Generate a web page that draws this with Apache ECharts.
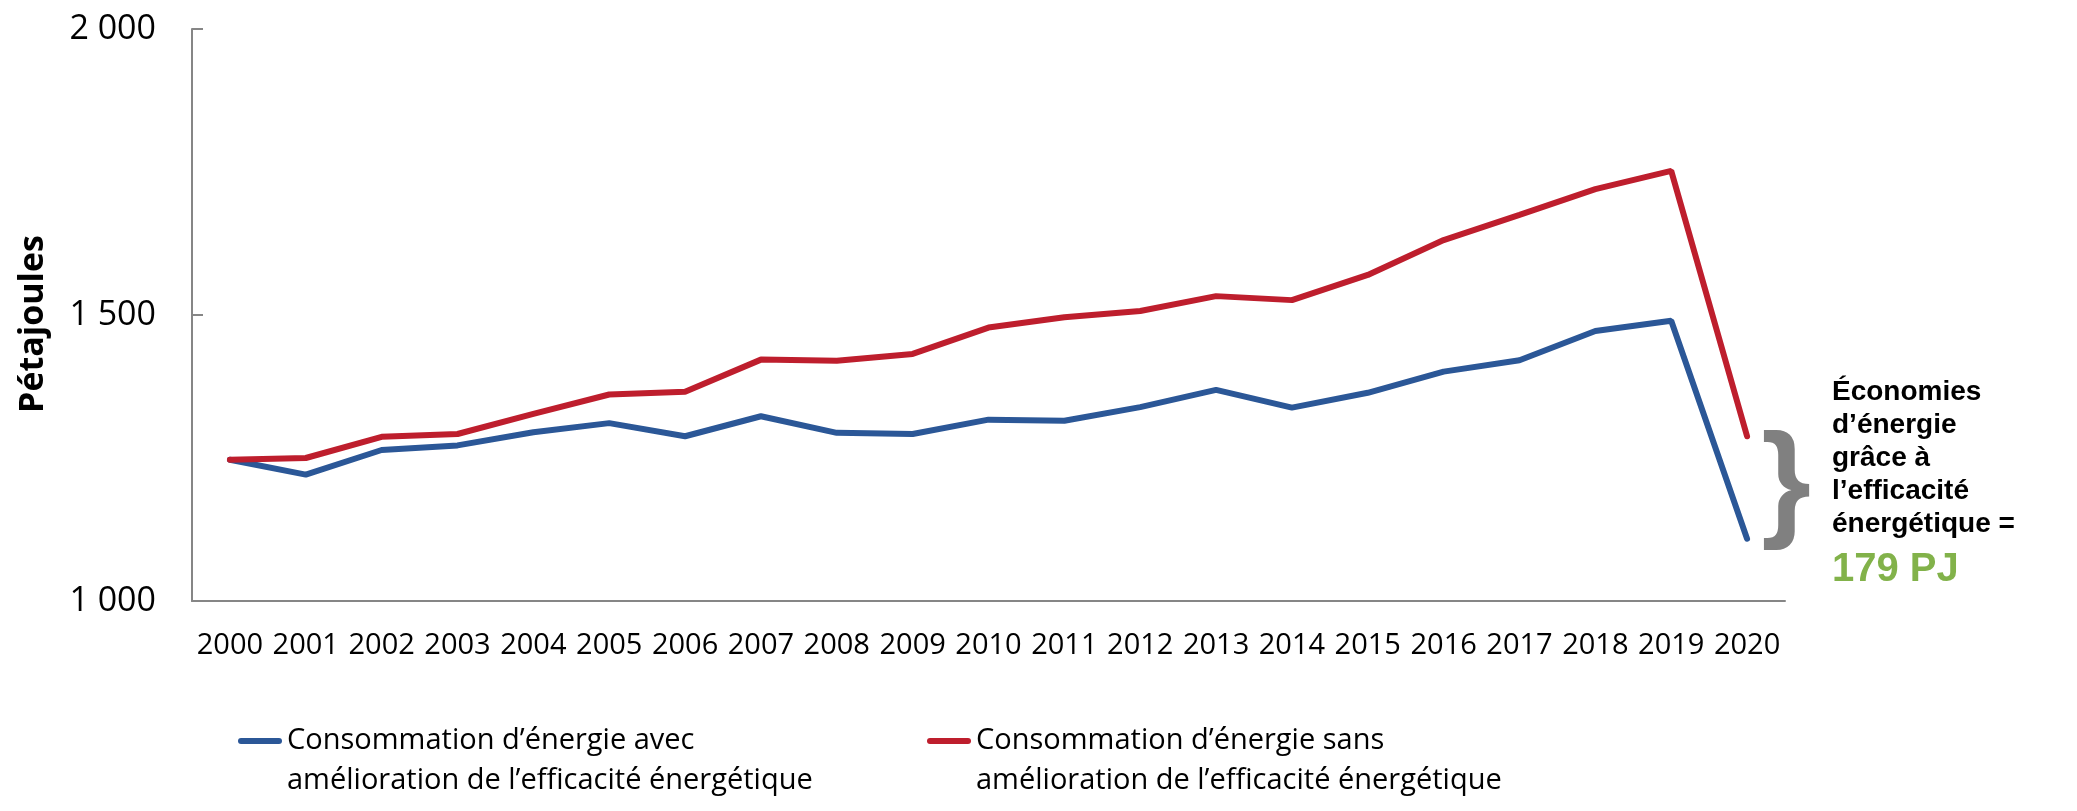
<!DOCTYPE html>
<html>
<head>
<meta charset="utf-8">
<script src="https://cdn.jsdelivr.net/npm/echarts@6/dist/echarts.min.js"></script>
<style>
  html, body { margin: 0; padding: 0; background: #fff; }
  #main { width: 2077px; height: 811px; }
</style>
</head>
<body>
<div id="main"></div>
<script>
// data (petajoules)
var years = ["2000", "2001", "2002", "2003", "2004", "2005", "2006", "2007", "2008", "2009", "2010",
  "2011", "2012", "2013", "2014", "2015", "2016", "2017", "2018", "2019", "2020"];
var avecAmelioration = [1247, 1221, 1264, 1272, 1295, 1311, 1288, 1323, 1294, 1292, 1317,
  1315, 1339, 1369, 1338, 1364, 1401, 1421, 1472, 1490, 1109];
var sansAmelioration = [1247, 1250, 1287, 1292, 1327, 1361, 1366, 1422, 1420, 1432, 1478,
  1496, 1507, 1533, 1526, 1570, 1631, 1675, 1720, 1752, 1288];
var yTicks = [1000, 1500, 2000];
var nomAvec = "Consommation d\u2019énergie avec\namélioration de l\u2019efficacité énergétique";
var nomSans = "Consommation d\u2019énergie sans\namélioration de l\u2019efficacité énergétique";
var economies = "179 PJ";

var gris = "#868686";
var bleu = "#2B5797";
var rouge = "#BE1E2D";

function milliers(v) {
  return String(v).replace(/\B(?=(\d{3})+(?!\d))/g, " ");
}

var chart = echarts.init(document.getElementById("main"));

// rounded bar used as legend marker
var trait = "path://M3,0 L41,0 A3,3 0 0 1 41,6 L3,6 A3,3 0 0 1 3,0 Z";

function legende(nom, gauche) {
  return {
    data: [{ name: nom, icon: trait }],
    left: gauche,
    top: 676,
    itemWidth: 44,
    itemHeight: 6,
    // empty first line so the marker sits level with the first text line
    formatter: function (n) { return "\n" + n; },
    textStyle: {
      fontFamily: "Open Sans",
      fontSize: 29,
      color: "#000",
      lineHeight: 40
    }
  };
}

var option = {
  animation: false,
  grid: { left: 192, right: 292, top: 29, bottom: 210 },
  legend: [legende(nomAvec, 233), legende(nomSans, 922)],
  xAxis: {
    type: "category",
    data: years,
    boundaryGap: true,
    axisLine: { lineStyle: { color: gris, width: 2 } },
    axisTick: { inside: true, length: 10, lineStyle: { color: gris, width: 2 } },
    axisLabel: {
      interval: 0,
      margin: 30,
      fontFamily: "Open Sans",
      fontSize: 29,
      color: "#000"
    }
  },
  yAxis: {
    type: "value",
    min: yTicks[0],
    max: yTicks[yTicks.length - 1],
    interval: yTicks[1] - yTicks[0],
    name: "Pétajoules",
    nameLocation: "middle",
    nameRotate: 90,
    nameGap: 142,
    nameTextStyle: {
      fontFamily: "Open Sans",
      fontWeight: "bold",
      fontSize: 34,
      color: "#000",
      padding: [0, 18, 0, 0]
    },
    axisLine: { show: true, lineStyle: { color: gris, width: 2 } },
    axisTick: { show: true, inside: true, length: 11, lineStyle: { color: gris, width: 2 } },
    splitLine: { show: false },
    axisLabel: {
      margin: 36,
      fontFamily: "Open Sans",
      fontSize: 34,
      color: "#000",
      formatter: milliers
    }
  },
  series: [
    {
      name: nomAvec,
      type: "line",
      data: avecAmelioration,
      symbol: "none",
      color: bleu,
      lineStyle: { width: 6, color: bleu, cap: "round" }
    },
    {
      name: nomSans,
      type: "line",
      data: sansAmelioration,
      symbol: "none",
      color: rouge,
      lineStyle: { width: 6, color: rouge, cap: "round" }
    }
  ]
};

chart.setOption(option);

// brace placed next to the 2020 gap, text block to its right
var last = years.length - 1;
var pHaut = chart.convertToPixel({ gridIndex: 0 }, [years[last], sansAmelioration[last]]);
var pBas = chart.convertToPixel({ gridIndex: 0 }, [years[last], avecAmelioration[last]]);
var braceX = pHaut[0] + 39;
var braceY = (pHaut[1] + pBas[1]) / 2;

chart.setOption({
  graphic: [
    {
      type: "text",
      x: braceX,
      y: braceY,
      style: {
        text: "}",
        fontFamily: "Liberation Sans",
        fontWeight: "bold",
        fontSize: 128,
        fill: "#808080",
        align: "center",
        verticalAlign: "middle"
      }
    },
    {
      type: "text",
      x: 1832,
      y: 376,
      style: {
        text: "Économies\nd\u2019énergie\ngrâce à\nl\u2019efficacité\nénergétique =",
        fontFamily: "Liberation Sans",
        fontWeight: "bold",
        fontSize: 28,
        lineHeight: 33,
        fill: "#000",
        align: "left",
        verticalAlign: "top"
      }
    },
    {
      type: "text",
      x: 1832,
      y: 548,
      style: {
        text: economies,
        fontFamily: "Liberation Sans",
        fontWeight: "bold",
        fontSize: 40,
        lineHeight: 44,
        fill: "#82B24A",
        align: "left",
        verticalAlign: "top"
      }
    }
  ]
});
</script>
</body>
</html>
